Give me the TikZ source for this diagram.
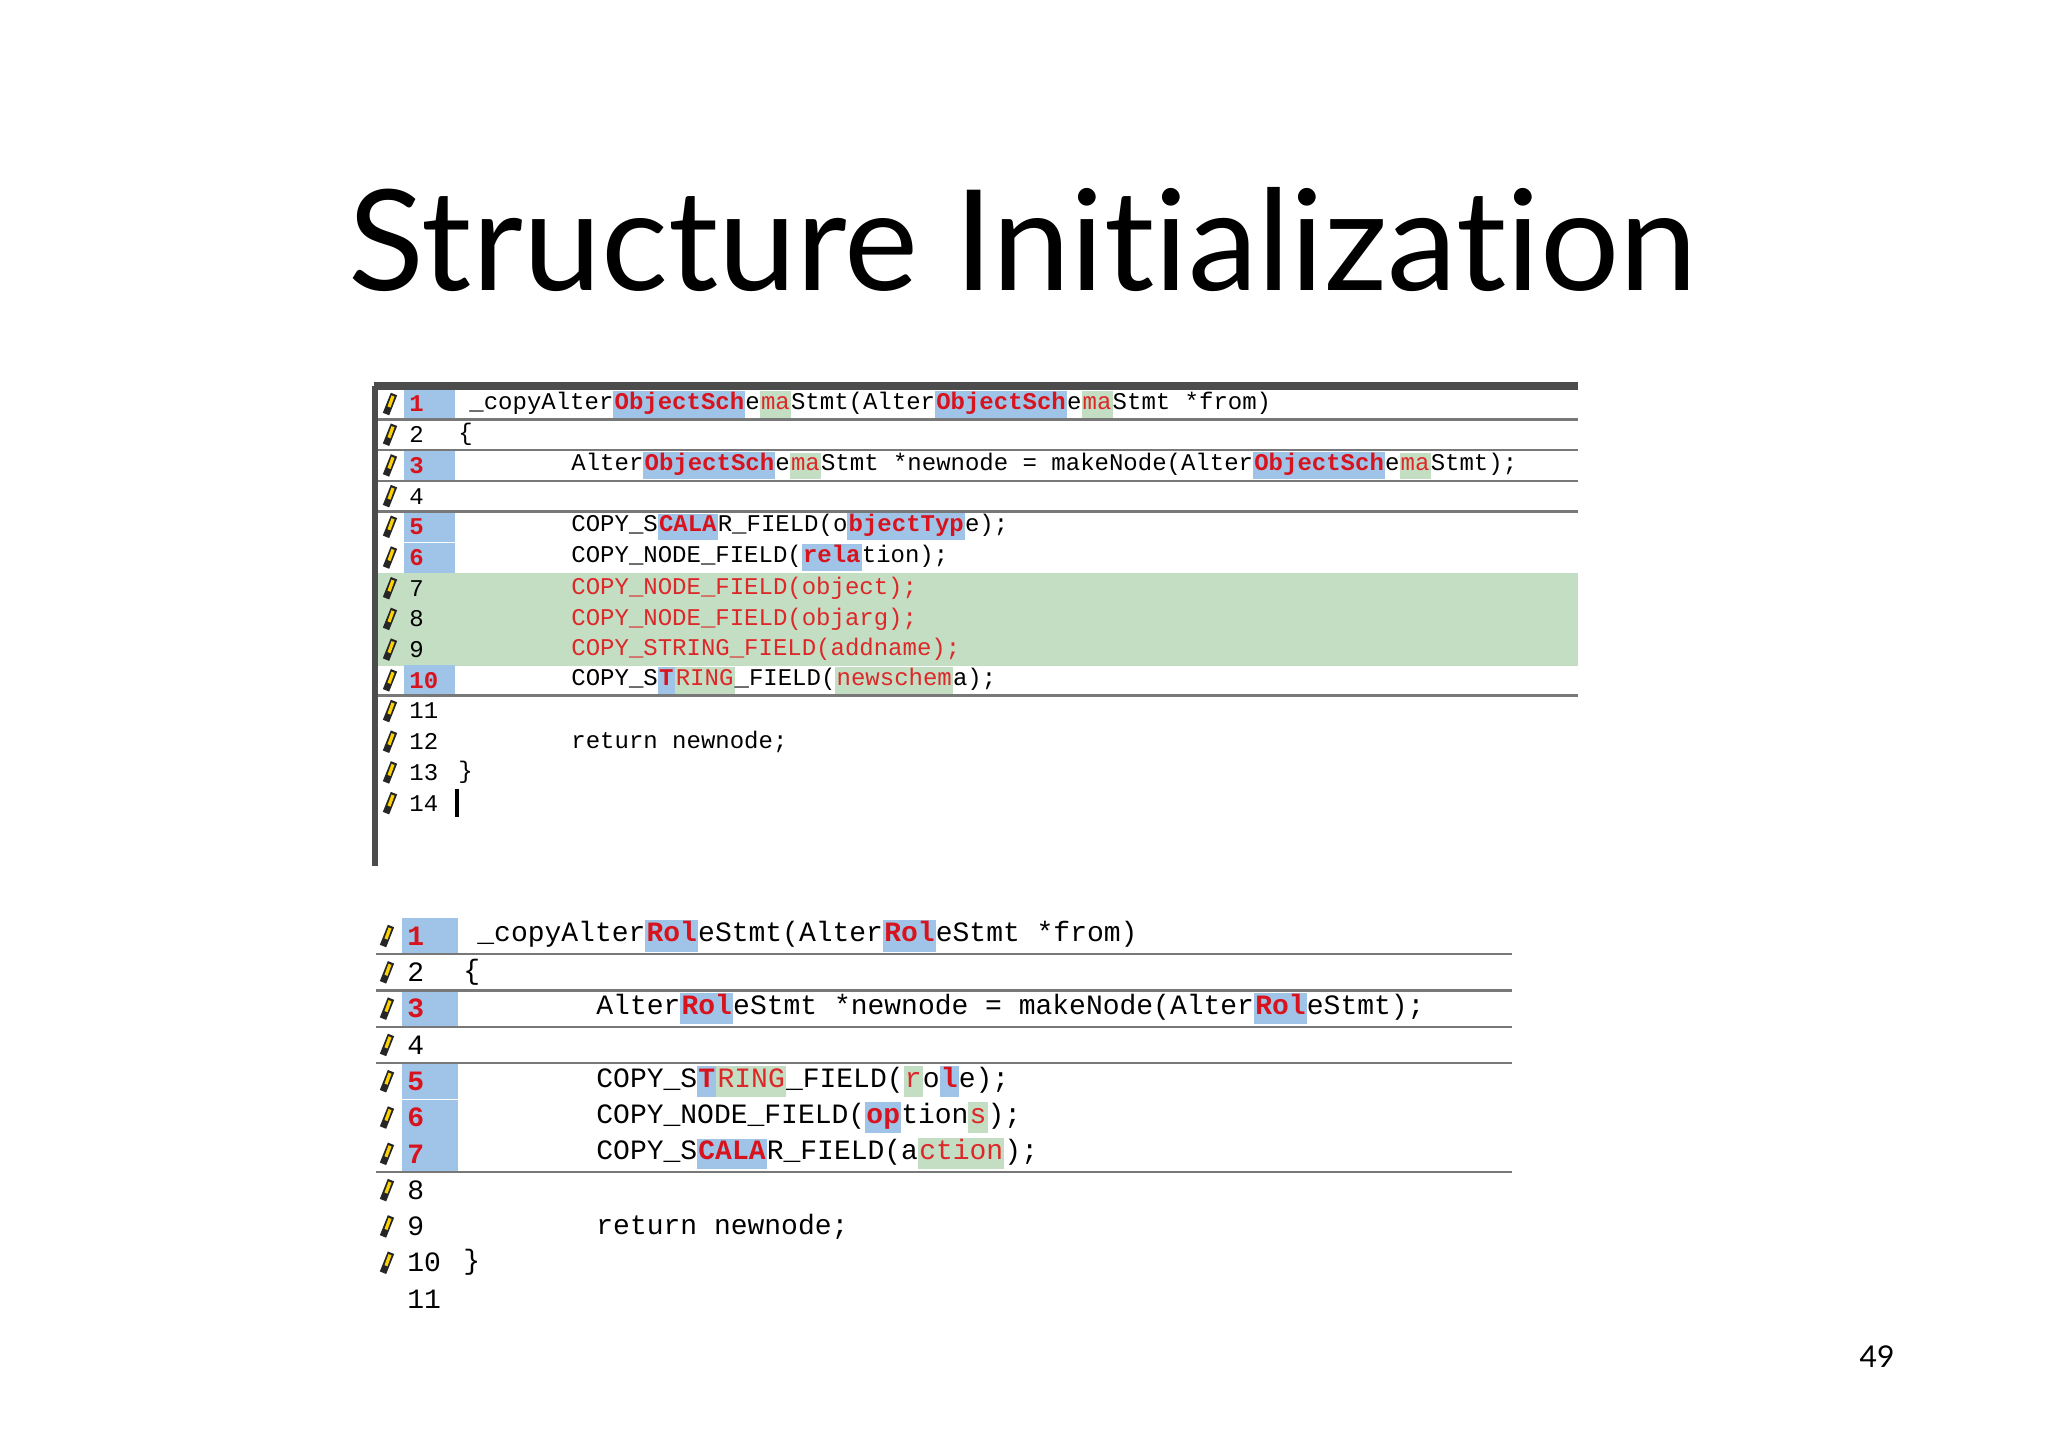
\documentclass[tikz,border=0pt]{standalone}
\usepackage{fontspec}
\setmainfont{Lato}[Ligatures={NoCommon}]
\newfontfamily\codefont{Liberation Mono}
\definecolor{hlblue}{RGB}{160,196,232}
\definecolor{hlgreen}{RGB}{196,222,196}
\definecolor{numred}{RGB}{215,20,30}
\definecolor{codered}{RGB}{220,40,40}
\definecolor{sepgray}{RGB}{120,120,120}
\newcommand{\hb}[1]{{\setlength\fboxsep{0.6pt}\colorbox{hlblue}{\strut\textcolor{numred}{\bfseries #1}}}}
\newcommand{\hg}[1]{{\setlength\fboxsep{0.6pt}\colorbox{hlgreen}{\strut\textcolor{codered}{#1}}}}
\tikzset{
  codeA/.style={anchor=west,inner sep=0pt,font=\codefont\fontsize{12}{12}\selectfont},
  codeB/.style={anchor=west,inner sep=0pt,font=\codefont\fontsize{14}{14}\selectfont},
  sepline/.style={draw=sepgray,line width=1.2pt},
  pencil/.style={line width=3.4pt,draw=black!85},
}
\newcommand{\pen}[2]{\draw[pencil] ({#1-4},{#2+10}) -- ({#1+4},{#2-10}); \draw[line width=1.6pt,yellow!70!orange] ({#1-1},{#2+3}) -- ({#1+3},{#2-8});}
\begin{document}
\begin{tikzpicture}[x=0.5pt,y=-0.5pt]
\useasboundingbox[fill=white] (0,0) rectangle (2048,1447);
\node[font=\fontsize{70}{70}\selectfont,anchor=base] (title) at (1023,290) {Structure Initialization};
\node[font=\fontsize{15}{15}\selectfont,anchor=base] (pg) at (1877,1367) {49};
% ---------- block 1 ----------
\def\ya{404}\def\da{30.7}
\fill[hlgreen] (376,573) rectangle (1578,666);
\foreach \i in {1,3,5,6,10} \fill[hlblue] (404,{\ya+\da*(\i-1)-15}) rectangle (455,{\ya+\da*(\i-1)+15});
\foreach \i in {1,2,3,4,10} \draw[sepline] (376,{\ya+\da*(\i-0.5)}) -- (1578,{\ya+\da*(\i-0.5)});
\draw[line width=4pt,draw=black!70] (374,386) -- (1578,386);
\draw[line width=3pt,draw=black!70] (375,386) -- (375,866);
\foreach \i in {1,...,14} {\pen{390}{\ya+\da*(\i-1)}}
\foreach \i in {1,3,5,6,10} \node[codeA,text=numred,font=\codefont\bfseries\fontsize{12}{12}\selectfont] (na\i) at (409,{\ya+\da*(\i-1)}) {\i};
\foreach \i in {2,4,7,8,9,11,12,13,14} \node[codeA] (na\i) at (409,{\ya+\da*(\i-1)}) {\i};
\node[codeA] (a1) at (469,\ya) {\_copyAlter\hb{ObjectSch}e\hg{ma}Stmt(Alter\hb{ObjectSch}e\hg{ma}Stmt *from)};
\node[codeA] (a2) at (458,{\ya+\da}) {\{};
\node[codeA] (a3) at (571,{\ya+2*\da}) {Alter\hb{ObjectSch}e\hg{ma}Stmt *newnode = makeNode(Alter\hb{ObjectSch}e\hg{ma}Stmt);};
\node[codeA] (a5) at (571,{\ya+4*\da}) {COPY\_S\hb{CALA}R\_FIELD(o\hb{bjectTyp}e);};
\node[codeA] (a6) at (571,{\ya+5*\da}) {COPY\_NODE\_FIELD(\hb{rela}tion);};
\node[codeA,text=codered] (a7) at (571,{\ya+6*\da}) {COPY\_NODE\_FIELD(object);};
\node[codeA,text=codered] (a8) at (571,{\ya+7*\da}) {COPY\_NODE\_FIELD(objarg);};
\node[codeA,text=codered] (a9) at (571,{\ya+8*\da}) {COPY\_STRING\_FIELD(addname);};
\node[codeA] (a10) at (571,{\ya+9*\da}) {COPY\_S\hb{T}\hg{RING}\_FIELD(\hg{newschem}a);};
\node[codeA] (a12) at (571,{\ya+11*\da}) {return newnode;};
\node[codeA] (a13) at (458,{\ya+12*\da}) {\}};
\draw[line width=2pt] (457,{\ya+13*\da-14}) -- (457,{\ya+13*\da+14});
% ---------- block 2 ----------
\def\yb{936}\def\db{36.3}
\foreach \i in {1,3,5,6,7} \fill[hlblue] (402,{\yb+\db*(\i-1)-18}) rectangle (458,{\yb+\db*(\i-1)+18});
\foreach \i in {1,2,3,4,7} \draw[sepline] (376,{\yb+\db*(\i-0.5)}) -- (1512,{\yb+\db*(\i-0.5)});
\foreach \i in {1,...,10} {\pen{387}{\yb+\db*(\i-1)}}
\foreach \i in {1,3,5,6,7} \node[codeB,text=numred,font=\codefont\bfseries\fontsize{14}{14}\selectfont] (nb\i) at (407,{\yb+\db*(\i-1)}) {\i};
\foreach \i in {2,4,8,9,10,11} \node[codeB] (nb\i) at (407,{\yb+\db*(\i-1)}) {\i};
\node[codeB] (b1) at (477,\yb) {\_copyAlter\hb{Rol}eStmt(Alter\hb{Rol}eStmt *from)};
\node[codeB] (b2) at (463,{\yb+\db}) {\{};
\node[codeB] (b3) at (596,{\yb+2*\db}) {Alter\hb{Rol}eStmt *newnode = makeNode(Alter\hb{Rol}eStmt);};
\node[codeB] (b5) at (596,{\yb+4*\db}) {COPY\_S\hb{T}\hg{RING}\_FIELD(\hg{r}o\hb{l}e);};
\node[codeB] (b6) at (596,{\yb+5*\db}) {COPY\_NODE\_FIELD(\hb{op}tion\hg{s});};
\node[codeB] (b7) at (596,{\yb+6*\db}) {COPY\_S\hb{CALA}R\_FIELD(a\hg{ction});};
\node[codeB] (b9) at (596,{\yb+8*\db}) {return newnode;};
\node[codeB] (b10) at (463,{\yb+9*\db}) {\}};
\end{tikzpicture}
\end{document}
